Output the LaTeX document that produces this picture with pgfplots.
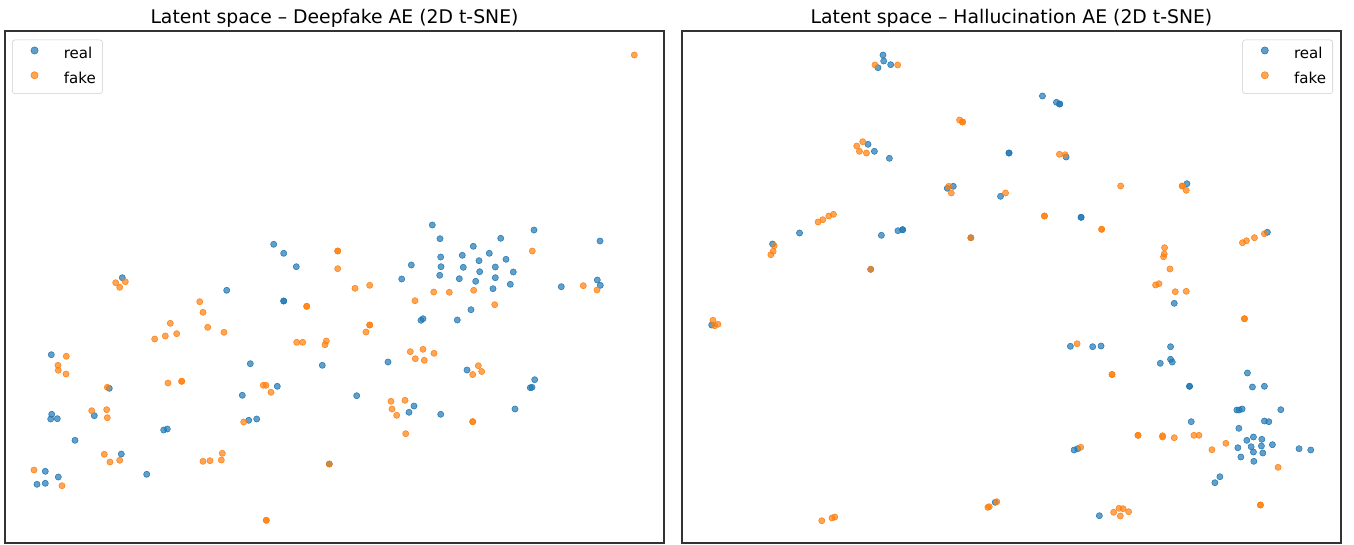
\documentclass[border=0pt]{standalone}
\usepackage{pgfplots}
\pgfplotsset{compat=1.18}
\usepackage{fontspec}
\setmainfont{DejaVu Sans}
\definecolor{tabblue}{HTML}{1F77B4}
\definecolor{taborange}{HTML}{FF7F0E}
\pgfplotsset{
  tsne/.style={
    scale only axis, width=494.25pt, height=384pt,
    y dir=reverse, ymin=31, ymax=543,
    xtick=\empty, ytick=\empty,
    axis line style={line width=0.9pt, black!80},
    title style={at={(0.5,1)}, anchor=base, yshift=0pt, font=\fontsize{14.1}{17}\selectfont},
    legend style={draw=black!20, rounded corners=2pt, fill=white, fill opacity=0.8, text opacity=1,
      font=\fontsize{11.3}{13}\selectfont, inner xsep=5pt, inner ysep=5pt,
      nodes={inner sep=0pt, text height=8.5pt, text depth=2.5pt},
      row sep=7pt, column sep=10.25pt},
    legend cell align=left,
    legend image code/.code={\path (0pt,-3pt) (23pt,3pt); \fill[##1, fill opacity=0.7] (11.5pt,3.2pt) circle (2.7pt);},
  },
  realst/.style={only marks, mark=*, mark size=2.3pt, color=tabblue, mark options={draw=none, fill=tabblue, fill opacity=0.7}},
  fakest/.style={only marks, mark=*, mark size=2.3pt, color=taborange, mark options={draw=none, fill=taborange, fill opacity=0.7}},
}
\begin{document}
\begin{tikzpicture}
\begin{axis}[tsne, at={(3.75pt,0.75pt)}, anchor=south west, xmin=5, xmax=664,
  title={Latent space – Deepfake AE (2D t-SNE)},
  legend style={at={(0,1)}, anchor=north west, xshift=5.25pt, yshift=-6.5pt}]
\addplot[realst] table {
273.7 244.3
283.7 253.3
296.3 266.7
122.3 277.7
226.7 290.3
283.7 301
283.7 301
51.3 354.7
250.3 363.7
322.3 365.3
432.3 225
534 230
440 238.7
500.7 238.3
600 241
473.3 246.3
489.3 253.3
440.7 257
462.3 255.3
506 259.3
479 260.7
411.3 265
441 266.7
463.3 267.3
495.3 267
479.7 271.7
513.3 272
439.7 275.3
401.7 279
459.3 278.7
495.3 277.7
475.7 281.3
597.3 280
510.3 284.3
561.3 286.7
600.3 285.3
493 288.7
471 309.7
423 318.7
421 320.3
457.3 320
388 362
467 370
534.7 379.7
530.3 387.7
532 387.3
356.7 395.7
414 406
409 412.3
440.7 414.3
515 409
109.3 388.3
277.3 386.3
242.3 395.3
51.7 414.3
50.7 419
57.3 418.7
94.3 415.7
163.7 430
167.3 429
248.7 420.3
256.7 419
75 440.3
121.3 454
45.3 471.3
58.3 477
37 484.3
45.3 483.3
146.7 474.3
329.3 464
};
\addlegendentry{real}
\addplot[fakest] table {
634.3 55
115.7 282.7
125.3 281.7
119.7 287.3
199.7 301.7
306.7 306.3
306.7 306.3
203 312.3
170.3 323.3
207.7 327.3
224 332.3
154.7 339
165.3 336
176.7 333.7
296.7 342.3
302.7 342.3
325 344.7
326.3 341
66.3 356.3
58 365.3
58.3 370.3
66 374
337.7 251
337.7 251
532.3 251
337.7 268.7
369.7 285.3
355 288.3
583.3 285.7
597 290
473.7 290.3
433.7 292
449.3 292.3
415 300.7
494.7 304.7
369.7 325
369.7 325
366 332
410.3 351.7
423 349.3
434 353.3
415.3 358.7
424.3 360.3
478.3 365.7
481.7 371.5
472.7 374.5
391 401.3
405 400.3
392 409
396.7 415.3
472.7 421.7
472.7 421.7
405.7 433.7
107.3 387.3
168 383
181.7 381.3
181.7 381.3
263.3 385.3
266 385.3
271 392.3
91.7 410.7
106.7 409.7
107.3 417.7
243.7 422
104.3 454.3
119.7 460.3
110 462
203 461.3
210 460.7
221.3 460
222.3 453.3
34 470
62 485.7
329.3 464
266.3 520.3
266.3 520.3
};
\addlegendentry{fake}
\end{axis}
\begin{axis}[tsne, at={(511.5pt,0.75pt)}, anchor=south west, xmin=682, xmax=1342,
  title={Latent space – Hallucination AE (2D t-SNE)},
  legend style={at={(1,1)}, anchor=north east, xshift=-6pt, yshift=-6.5pt}]
\addplot[realst] table {
883.3 55
884 61
878.3 67.7
891 64.7
868.3 144.3
874.7 151.3
889.7 158.3
1009.5 153
1009.5 153
947.7 188.3
953.7 186.3
1001 196.3
1043 96
1057 102.3
1060.3 104
1060.3 104
1066.7 157
1187.7 183.7
799.7 233
881.7 235.3
898.3 230.7
903 229.7
903 229.7
971.3 237.7
772.7 244
871 269.3
711.7 325
1081.7 217.3
1081.7 217.3
1268.3 232.3
1175 303.3
1071 346.3
1093.3 346.7
1101.7 346
1171.3 346.7
1161 363.3
1171.3 359.3
1173 362
1248.3 373
995.7 502.3
1190.3 386.3
1190.3 386.3
1253.3 387
1265.3 386.3
1237.7 410
1240 410
1243 409
1281.7 409.7
1192 421.7
1265.3 421
1269.7 421.7
1239.7 428.3
1247.7 440.3
1254.3 437
1262.7 439.3
1273.3 444.7
1238.7 447.7
1252 446.7
1262.3 446
1254.3 452
1263.7 453
1241.7 457
1254.7 461.3
1300 448.7
1311.7 450
1074.7 450
1078.3 448.7
1220.7 476.7
1215.7 482.7
1100 515.7
};
\addlegendentry{real}
\addplot[fakest] table {
875.3 65
898 65
960 120
963 122
963 122
863 141.7
857 146
859.7 151.3
866.7 153
949.3 186.3
951.7 193
1006 193
1060 154.3
1065.7 154.7
1121.3 186
1183 186
1183 186
1187 190.3
818.3 222
823 219.7
829 216
833.7 214.3
971.3 237.7
774.3 245.7
773.3 251.3
771 254.7
871 269.3
713 320.3
714.7 325.7
718 324.3
1045 216
1045 216
1102.3 229.3
1102.3 229.3
1243.3 242.7
1247.3 240.7
1255.3 237.7
1265.3 233.7
1165.3 247.7
1165 254
1164.3 256.7
1170.7 269
1156.3 285
1159.7 283.7
1176 291.7
1187 291.3
1245.3 318.7
1245.3 318.7
1077.7 343.7
1112.7 374.5
1112.7 374.5
822 520.7
832.3 518
835 517
988.3 507.3
989.7 506.7
997.3 501.7
1138.7 435.3
1138.7 435.3
1163.3 435.7
1163.3 437
1175 437.7
1194.7 435.3
1199.7 435.3
1226.7 443.3
1212.7 449.7
1279 467.3
1081.3 447.3
1261.3 505
1261.3 505
1114.3 512.3
1119.7 508.3
1123.7 508.7
1129.3 511.7
1121 516
};
\addlegendentry{fake}
\end{axis}
\pgfresetboundingbox
\path (0,0) rectangle (1015.5pt,408pt);
\end{tikzpicture}
\end{document}
